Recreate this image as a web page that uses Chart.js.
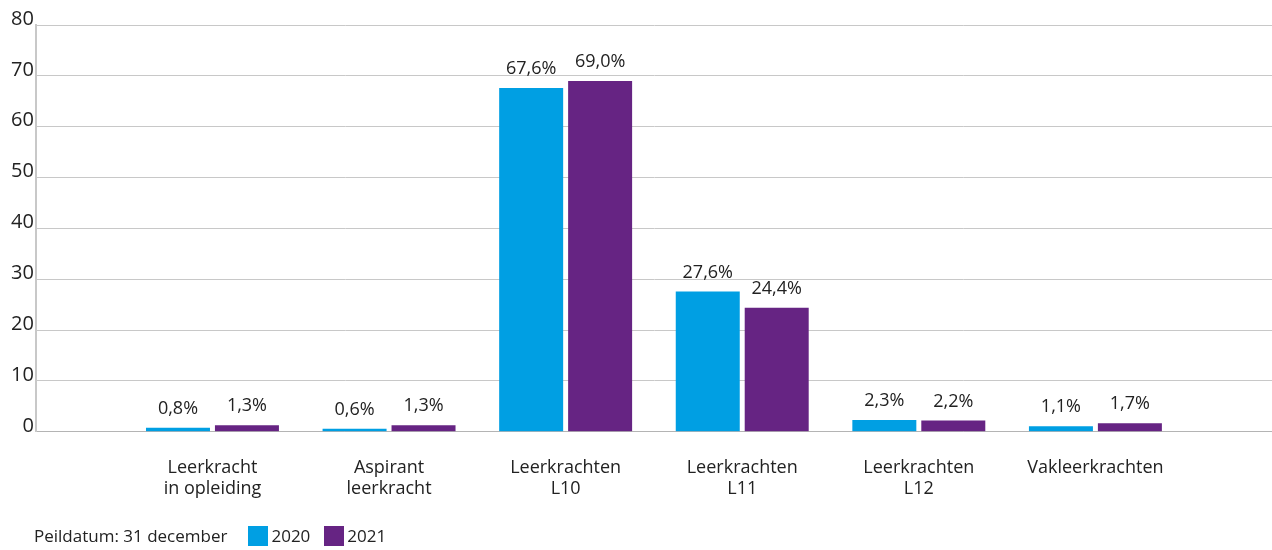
<!DOCTYPE html>
<html>
<head>
<meta charset="utf-8">
<script src="https://cdn.jsdelivr.net/npm/chart.js@4"></script>
<style>
  body { margin: 0; background: #fff; font-family: "Open Sans", sans-serif; overflow: hidden; }
  #wrap { position: relative; width: 1272px; height: 550px; }
  #legend { position: absolute; left: 34px; top: 524px; font-size: 17px; color: #222; display: flex; align-items: center; }
  #legend .box { display: inline-block; width: 20px; height: 20px; margin-right: 3px; }
  #legend .item { display: flex; align-items: center; margin-right: 14px; }
</style>
</head>
<body>
<div id="wrap">
  <canvas id="myChart"></canvas>
  <div id="legend">
    <span style="margin-right:21px">Peildatum: 31 december</span>
    <span class="item"><span class="box" style="background:#009fe3"></span>2020</span>
    <span class="item"><span class="box" style="background:#662483"></span>2021</span>
  </div>
</div>
<script>
const categories = [
  ['Leerkracht', 'in opleiding'],
  ['Aspirant', 'leerkracht'],
  ['Leerkrachten', 'L10'],
  ['Leerkrachten', 'L11'],
  ['Leerkrachten', 'L12'],
  'Vakleerkrachten'
];
const values2020 = [0.8, 0.6, 67.6, 27.6, 2.3, 1.1];
const values2021 = [1.3, 1.3, 69.0, 24.4, 2.2, 1.7];
const yTicks = [0, 10, 20, 30, 40, 50, 60, 70, 80];

// empty slot on both sides, like the original
const labels = [''].concat(categories, ['']);
const pad = arr => [null].concat(arr, [null]);

const valueLabels = {
  id: 'valueLabels',
  afterDatasetsDraw(chart) {
    const ctx = chart.ctx;
    ctx.save();
    ctx.font = '18px "Open Sans"';
    ctx.fillStyle = '#222';
    ctx.textAlign = 'center';
    ctx.textBaseline = 'middle';
    chart.data.datasets.forEach((ds, i) => {
      chart.getDatasetMeta(i).data.forEach((bar, j) => {
        const v = ds.data[j];
        if (v == null) return;
        ctx.fillText(v.toFixed(1).replace('.', ',') + '%', bar.x, bar.y - 19);
      });
    });
    ctx.restore();
  }
};

let ctx = document.getElementById('myChart').getContext('2d');
let myChart = new Chart(ctx, {
  type: 'bar',
  data: {
    labels: labels,
    datasets: [{
      label: '2020',
      data: pad(values2020),
      backgroundColor: '#009fe3',
      barPercentage: 0.928,
      categoryPercentage: 0.781
    }, {
      label: '2021',
      data: pad(values2021),
      backgroundColor: '#662483',
      barPercentage: 0.928,
      categoryPercentage: 0.781
    }]
  },
  options: {
    responsive: true,
    maintainAspectRatio: false,
    animation: false,
    layout: { padding: { top: 25, left: 9, right: 0, bottom: 33 } },
    plugins: { legend: { display: false }, tooltip: { enabled: false } },
    scales: {
      x: {
        offset: false,
        grid: { display: false },
        border: { color: '#b4b4b4', width: 1 },
        afterFit: scale => { scale.paddingRight = 0; },
        ticks: {
          color: '#222',
          font: { family: 'Open Sans', size: 18, lineHeight: 1.2 },
          padding: 17,
          maxRotation: 0,
          autoSkip: false
        }
      },
      y: {
        min: 0,
        max: 80,
        afterBuildTicks: axis => { axis.ticks = yTicks.map(v => ({ value: v })); },
        grid: { color: '#c8c8c8', drawTicks: false },
        border: { color: '#c8c8c8', width: 2 },
        ticks: {
          color: '#222',
          font: { family: 'Open Sans', size: 20 },
          padding: 2,
          labelOffset: -6
        }
      }
    }
  },
  plugins: [valueLabels]
});
</script>
</body>
</html>
